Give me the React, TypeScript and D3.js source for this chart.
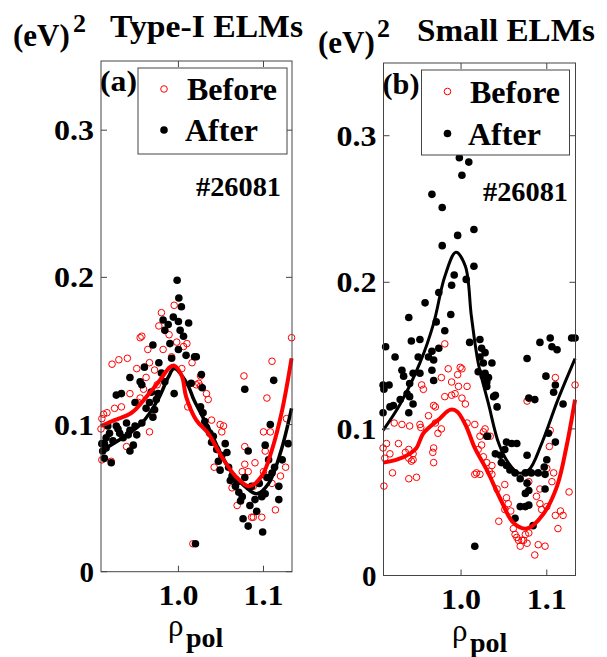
import React from "react";
import * as d3 from "d3";

type Pt = [number, number];

// panel (a) Type-I ELMs, rho_pol vs (eV)^2
const aBefore: Pt[] = [
  [0.980, 0.176], [0.995, 0.181], [0.977, 0.167], [0.955, 0.159], [0.957, 0.160], [0.964, 0.151],
  [0.982, 0.151], [0.989, 0.161], [0.998, 0.156], [1.006, 0.153], [0.992, 0.146], [0.922, 0.141],
  [0.930, 0.144], [0.940, 0.145], [0.951, 0.138], [0.966, 0.142], [0.972, 0.137], [0.962, 0.132],
  [1.004, 0.138], [0.943, 0.121], [0.955, 0.118], [0.925, 0.111], [0.933, 0.112], [0.912, 0.107],
  [0.916, 0.108], [0.910, 0.104], [0.966, 0.095], [0.939, 0.085], [0.910, 0.076], [0.921, 0.075],
  [1.011, 0.112], [1.021, 0.127], [1.017, 0.019], [0.909, 0.097], [0.953, 0.115], [0.959, 0.124],
  [0.975, 0.127], [1.010, 0.155], [1.016, 0.142], [1.024, 0.128], [1.026, 0.126], [1.033, 0.121],
  [1.035, 0.117], [1.039, 0.103], [1.049, 0.100], [1.053, 0.099], [1.051, 0.095], [1.077, 0.133],
  [1.110, 0.143], [1.133, 0.159], [1.104, 0.118], [1.100, 0.095], [1.108, 0.095], [1.127, 0.104],
  [1.026, 0.133], [1.042, 0.071], [1.078, 0.085], [1.078, 0.073], [1.090, 0.074], [1.075, 0.068],
  [1.082, 0.068], [1.100, 0.068], [1.126, 0.071], [1.063, 0.057], [1.069, 0.045], [1.088, 0.058],
  [1.120, 0.065], [1.114, 0.042], [1.088, 0.037], [1.098, 0.037], [1.086, 0.037], [1.110, 0.060],
  [1.102, 0.082],
];

const aAfter: Pt[] = [
  [0.9985, 0.198], [1.0005, 0.186], [1.0035, 0.180], [0.982, 0.171], [0.994, 0.173], [0.988, 0.168],
  [1.000, 0.170], [0.984, 0.164], [1.002, 0.164], [1.012, 0.169], [1.006, 0.160], [1.000, 0.151],
  [0.970, 0.154], [1.009, 0.147], [1.019, 0.146], [0.992, 0.145], [0.977, 0.142], [0.960, 0.139],
  [0.943, 0.132], [0.955, 0.129], [0.957, 0.127], [0.984, 0.129], [0.968, 0.122], [0.995, 0.121],
  [0.927, 0.120], [0.933, 0.121], [0.976, 0.121], [0.974, 0.117], [0.949, 0.115], [0.972, 0.110],
  [0.970, 0.105], [0.966, 0.115], [0.957, 0.101], [0.939, 0.101], [0.943, 0.096], [0.949, 0.099],
  [0.929, 0.097], [0.917, 0.099], [0.951, 0.093], [0.941, 0.093], [0.935, 0.091], [0.913, 0.087],
  [0.915, 0.084], [0.911, 0.082], [0.947, 0.086], [0.943, 0.082], [0.913, 0.077], [0.921, 0.074],
  [1.020, 0.019], [1.021, 0.146], [1.027, 0.134], [1.028, 0.125], [1.026, 0.112], [1.029, 0.108],
  [1.031, 0.102], [1.037, 0.094], [1.041, 0.092], [1.045, 0.083], [1.055, 0.087], [1.057, 0.081],
  [1.047, 0.075], [1.049, 0.069], [1.059, 0.071], [1.063, 0.065], [1.067, 0.058], [1.071, 0.054],
  [1.078, 0.064], [1.082, 0.082], [1.078, 0.124], [1.075, 0.051], [1.084, 0.045], [1.090, 0.049],
  [1.098, 0.051], [1.102, 0.053], [1.076, 0.036], [1.082, 0.031], [1.099, 0.027], [1.092, 0.041],
  [1.118, 0.049], [1.118, 0.058], [1.110, 0.067], [1.106, 0.076], [1.102, 0.086], [1.108, 0.100],
  [1.112, 0.130], [1.122, 0.076], [1.129, 0.087], [1.033, 0.098], [1.039, 0.088], [1.051, 0.079],
  [1.061, 0.062], [1.069, 0.061], [1.073, 0.048], [1.086, 0.058], [1.095, 0.060], [1.104, 0.064],
  [1.113, 0.071], [0.923, 0.089], [0.931, 0.094], [0.962, 0.111], [0.980, 0.135], [0.990, 0.155],
  [1.015, 0.128], [0.910, 0.087], [0.915, 0.091], [0.919, 0.094], [0.927, 0.099],
];

const aBeforeFit: Pt[] = [
  [0.909, 0.099], [0.925, 0.103], [0.945, 0.108], [0.964, 0.120], [0.978, 0.130], [0.990, 0.139],
  [0.995, 0.140], [1.004, 0.133], [1.009, 0.119], [1.021, 0.103], [1.035, 0.094], [1.051, 0.078],
  [1.067, 0.065], [1.083, 0.058], [1.098, 0.065], [1.110, 0.083], [1.122, 0.110], [1.133, 0.145],
];

const aAfterFit: Pt[] = [
  [0.909, 0.082], [0.937, 0.092], [0.957, 0.101], [0.976, 0.117], [0.988, 0.132], [0.995, 0.138],
  [1.010, 0.128], [1.018, 0.117], [1.026, 0.108], [1.037, 0.096], [1.050, 0.080], [1.063, 0.067],
  [1.078, 0.058], [1.092, 0.053], [1.106, 0.060], [1.120, 0.081], [1.133, 0.111],
];

// panel (b) Small ELMs
const bBefore: Pt[] = [
  [0.981, 0.158], [0.977, 0.135], [0.985, 0.141], [0.999, 0.142], [1.001, 0.141], [0.996, 0.137],
  [0.989, 0.132], [0.997, 0.129], [1.007, 0.129], [1.001, 0.121], [1.005, 0.117], [0.993, 0.124],
  [0.954, 0.130], [0.956, 0.127], [0.968, 0.116], [0.970, 0.115], [0.962, 0.109], [0.981, 0.122],
  [0.989, 0.123], [0.970, 0.104], [0.977, 0.100], [0.973, 0.097], [0.922, 0.104], [0.931, 0.103],
  [0.940, 0.102], [0.952, 0.103], [0.953, 0.101], [1.007, 0.104], [1.016, 0.103], [0.913, 0.090],
  [0.927, 0.090], [0.909, 0.087], [0.917, 0.083], [0.935, 0.084], [0.939, 0.086], [0.944, 0.083],
  [0.939, 0.080], [0.942, 0.078], [0.944, 0.079], [0.968, 0.087], [0.967, 0.084], [0.968, 0.077],
  [0.911, 0.080], [0.920, 0.070], [0.939, 0.066], [0.948, 0.067], [0.910, 0.061], [1.016, 0.069],
  [1.022, 0.095], [1.024, 0.089], [1.020, 0.086], [1.026, 0.081], [1.030, 0.077], [1.036, 0.075],
  [1.033, 0.071], [1.018, 0.070], [1.022, 0.069], [1.042, 0.059], [1.051, 0.062], [1.053, 0.053],
  [1.055, 0.049], [1.051, 0.045], [1.058, 0.044], [1.044, 0.037], [1.061, 0.032], [1.063, 0.028],
  [1.067, 0.024], [1.073, 0.024], [1.075, 0.028], [1.077, 0.022], [1.079, 0.029], [1.086, 0.014],
  [1.090, 0.021], [1.098, 0.020], [1.077, 0.119], [1.079, 0.064], [1.088, 0.054], [1.092, 0.049],
  [1.094, 0.045], [1.100, 0.047], [1.110, 0.041], [1.116, 0.044], [1.119, 0.041], [1.113, 0.032],
  [1.100, 0.073], [1.106, 0.064], [1.108, 0.070], [1.104, 0.099], [1.103, 0.088], [1.110, 0.135],
  [1.133, 0.130], [1.126, 0.057], [1.092, 0.059], [1.028, 0.100], [1.026, 0.098], [1.034, 0.095],
  [1.036, 0.069], [1.065, 0.026], [1.071, 0.024], [1.069, 0.020],
];

const bAfter: Pt[] = [
  [0.998, 0.285], [1.009, 0.282], [1.001, 0.273], [0.966, 0.260], [0.978, 0.251], [1.015, 0.236],
  [0.996, 0.232], [0.978, 0.225], [1.015, 0.211], [0.992, 0.205], [0.989, 0.198], [1.006, 0.202],
  [0.974, 0.193], [0.958, 0.186], [0.988, 0.178], [0.939, 0.176], [0.971, 0.173], [0.981, 0.167],
  [0.942, 0.160], [0.952, 0.161], [0.912, 0.156], [1.010, 0.159], [0.923, 0.149], [0.950, 0.149],
  [0.962, 0.149], [0.966, 0.153], [0.974, 0.155], [0.968, 0.147], [0.931, 0.140], [0.933, 0.136],
  [0.944, 0.138], [0.952, 0.138], [0.966, 0.140], [0.968, 0.133], [0.940, 0.131], [0.909, 0.130],
  [0.916, 0.130], [0.910, 0.127], [0.937, 0.124], [0.940, 0.122], [0.944, 0.117], [0.921, 0.116],
  [0.917, 0.115], [0.929, 0.120], [0.939, 0.111], [0.909, 0.111], [1.016, 0.020], [1.022, 0.161],
  [1.024, 0.155], [1.022, 0.149], [1.026, 0.145], [1.028, 0.152], [1.036, 0.145], [1.028, 0.138],
  [1.032, 0.135], [1.030, 0.129], [1.040, 0.123], [1.042, 0.115], [1.031, 0.095], [1.053, 0.091],
  [1.059, 0.090], [1.065, 0.090], [1.040, 0.083], [1.046, 0.082], [1.051, 0.086], [1.047, 0.077],
  [1.053, 0.075], [1.057, 0.072], [1.063, 0.070], [1.069, 0.066], [1.075, 0.070], [1.082, 0.070],
  [1.090, 0.070], [1.098, 0.069], [1.077, 0.082], [1.077, 0.063], [1.079, 0.058], [1.075, 0.056],
  [1.098, 0.059], [1.069, 0.047], [1.075, 0.047], [1.079, 0.048], [1.084, 0.034], [1.063, 0.039],
  [1.077, 0.148], [1.079, 0.121], [1.086, 0.120], [1.092, 0.159], [1.104, 0.162], [1.106, 0.156],
  [1.112, 0.154], [1.129, 0.162], [1.133, 0.162], [1.099, 0.136], [1.110, 0.130], [1.108, 0.125],
  [1.119, 0.117], [1.102, 0.097], [1.110, 0.091], [1.097, 0.074], [1.100, 0.079], [1.020, 0.139],
  [1.026, 0.136], [1.030, 0.132], [1.038, 0.122], [1.030, 0.095],
];

const bBeforeFit: Pt[] = [
  [0.909, 0.077], [0.925, 0.079], [0.940, 0.083], [0.948, 0.087], [0.956, 0.097], [0.975, 0.107],
  [0.987, 0.113], [0.995, 0.112], [1.005, 0.103], [1.016, 0.087], [1.030, 0.072], [1.046, 0.052],
  [1.061, 0.036], [1.077, 0.032], [1.096, 0.042], [1.112, 0.061], [1.123, 0.088], [1.133, 0.120],
];

const bAfterFit: Pt[] = [
  [0.909, 0.099], [0.929, 0.117], [0.952, 0.145], [0.968, 0.172], [0.981, 0.204], [0.994, 0.2205],
  [1.005, 0.211], [1.012, 0.177], [1.020, 0.145], [1.032, 0.117], [1.044, 0.090], [1.055, 0.077],
  [1.067, 0.070], [1.079, 0.072], [1.094, 0.090], [1.113, 0.120], [1.133, 0.148],
];

const yTicks = [0, 0.1, 0.2, 0.3];
const yTickLabels = ["0", "0.1", "0.2", "0.3"];
const xTicks = [1.0, 1.1];
const xTickLabels = ["1.0", "1.1"];
const seriesNames = ["Before", "After"];
const shotLabel = "#26081";

const FONT = "'Liberation Serif', 'Times New Roman', serif";
const RED = "#ff0000";

// rough width of a bold numeric label as drawn in the figure
const labelWidth = (s: string) => s.replace(/\./g, "").length * 14.5 + (s.includes(".") ? 11 : 0);

const panels = [
  {
    tag: "(a)", title: "Type-I ELMs", before: aBefore, after: aAfter, beforeFit: aBeforeFit, afterFit: aAfterFit,
    left: 101, right: 292, top: 61, bottom: 571.7, yMax: 0.347, xDom: [0.909, 1.1335],
    unitX: 13, unitY: 45.5, supX: 73, supY: 31.5, titleX: 110, titleY: 37, titleW: 193,
    tagY: 91, leg: { x: 138, y: 68, w: 149, h: 86 }, beforeY: 100, afterY: 141, legTextX: 187,
    shotX: 196, shotY: 196, rhoX: 168, rhoY: 636, afterW: 3.5,
  },
  {
    tag: "(b)", title: "Small ELMs", before: bBefore, after: bAfter, beforeFit: bBeforeFit, afterFit: bAfterFit,
    left: 383.5, right: 575.5, top: 63, bottom: 575.5, yMax: 0.3496, xDom: [0.9095, 1.1335],
    unitX: 318, unitY: 52.5, supX: 377, supY: 36.5, titleX: 417, titleY: 40.5, titleW: 178,
    tagY: 94, leg: { x: 421.5, y: 70, w: 148, h: 85 }, beforeY: 102.5, afterY: 144.5, legTextX: 470,
    shotX: 483, shotY: 201, rhoX: 452, rhoY: 641, afterW: 3,
  },
];

function Panel({ p }: { p: (typeof panels)[number] }) {
  const x = d3.scaleLinear().domain(p.xDom).range([p.left, p.right]);
  const y = d3.scaleLinear().domain([0, p.yMax]).range([p.bottom, p.top]);
  const line = d3
    .line<Pt>()
    .x((d) => x(d[0]))
    .y((d) => y(d[1]))
    .curve(d3.curveCatmullRom.alpha(0.5));
  const tk = 6;
  const mx = p.leg.x + 26;

  return (
    <g fontFamily={FONT} fontWeight="bold">
      {/* headings */}
      <text x={p.unitX} y={p.unitY} fontSize={31}>(eV)</text>
      <text x={p.supX} y={p.supY} fontSize={26}>2</text>
      <text x={p.titleX} y={p.titleY} fontSize={32} textLength={p.titleW} lengthAdjust="spacingAndGlyphs">
        {p.title}
      </text>

      {/* points */}
      {p.before.map((d, i) => (
        <circle key={"b" + i} cx={x(d[0])} cy={y(d[1])} r={3.3} fill="none" stroke={RED} strokeWidth={1} />
      ))}
      {p.after.map((d, i) => (
        <circle key={"a" + i} cx={x(d[0])} cy={y(d[1])} r={3.8} fill="#000" />
      ))}

      {/* fits */}
      <path d={line(p.afterFit) || ""} fill="none" stroke="#000" strokeWidth={p.afterW} />
      <path d={line(p.beforeFit) || ""} fill="none" stroke={RED} strokeWidth={4} />

      {/* frame and ticks */}
      <rect x={p.left} y={p.top} width={p.right - p.left} height={p.bottom - p.top} fill="none" stroke="#444" strokeWidth={1} />
      {yTicks.map((t, i) => (
        <g key={"y" + i}>
          <line x1={p.left} x2={p.left + tk} y1={y(t)} y2={y(t)} stroke="#444" />
          <line x1={p.right - tk} x2={p.right} y1={y(t)} y2={y(t)} stroke="#444" />
          <text x={p.left - 7} y={y(t) + 10} fontSize={30} textAnchor="end"
            textLength={labelWidth(yTickLabels[i])} lengthAdjust="spacingAndGlyphs">{yTickLabels[i]}</text>
        </g>
      ))}
      {xTicks.map((t, i) => (
        <g key={"x" + i}>
          <line x1={x(t)} x2={x(t)} y1={p.bottom} y2={p.bottom - tk} stroke="#444" />
          <line x1={x(t)} x2={x(t)} y1={p.top} y2={p.top + tk} stroke="#444" />
          <text x={x(t)} y={p.bottom + 33} fontSize={30} textAnchor="middle"
            textLength={labelWidth(xTickLabels[i])} lengthAdjust="spacingAndGlyphs">{xTickLabels[i]}</text>
        </g>
      ))}

      {/* axis label */}
      <text x={p.rhoX} y={p.rhoY} fontSize={31} fontWeight="normal">ρ</text>
      <text x={p.rhoX + 18} y={p.rhoY + 11} fontSize={28}>pol</text>

      {/* panel tag and shot */}
      <text x={p.left - 1} y={p.tagY} fontSize={30} textLength={37} lengthAdjust="spacingAndGlyphs">{p.tag}</text>
      <text x={p.shotX} y={p.shotY} fontSize={27} textLength={85} lengthAdjust="spacingAndGlyphs">{shotLabel}</text>

      {/* legend */}
      <rect x={p.leg.x} y={p.leg.y} width={p.leg.w} height={p.leg.h} fill="#fff" stroke="#444" strokeWidth={1} />
      <circle cx={mx} cy={p.beforeY - 11} r={3.3} fill="none" stroke={RED} strokeWidth={1} />
      <text x={p.legTextX} y={p.beforeY} fontSize={32}>{seriesNames[0]}</text>
      <circle cx={mx} cy={p.afterY - 11} r={3.8} fill="#000" />
      <text x={p.legTextX - 2} y={p.afterY} fontSize={32}>{seriesNames[1]}</text>
    </g>
  );
}

export default function App() {
  return (
    <svg width={607} height={657} style={{ position: "absolute", left: 0, top: 0, background: "#fff" }}>
      {panels.map((p, i) => (
        <Panel key={i} p={p} />
      ))}
    </svg>
  );
}
